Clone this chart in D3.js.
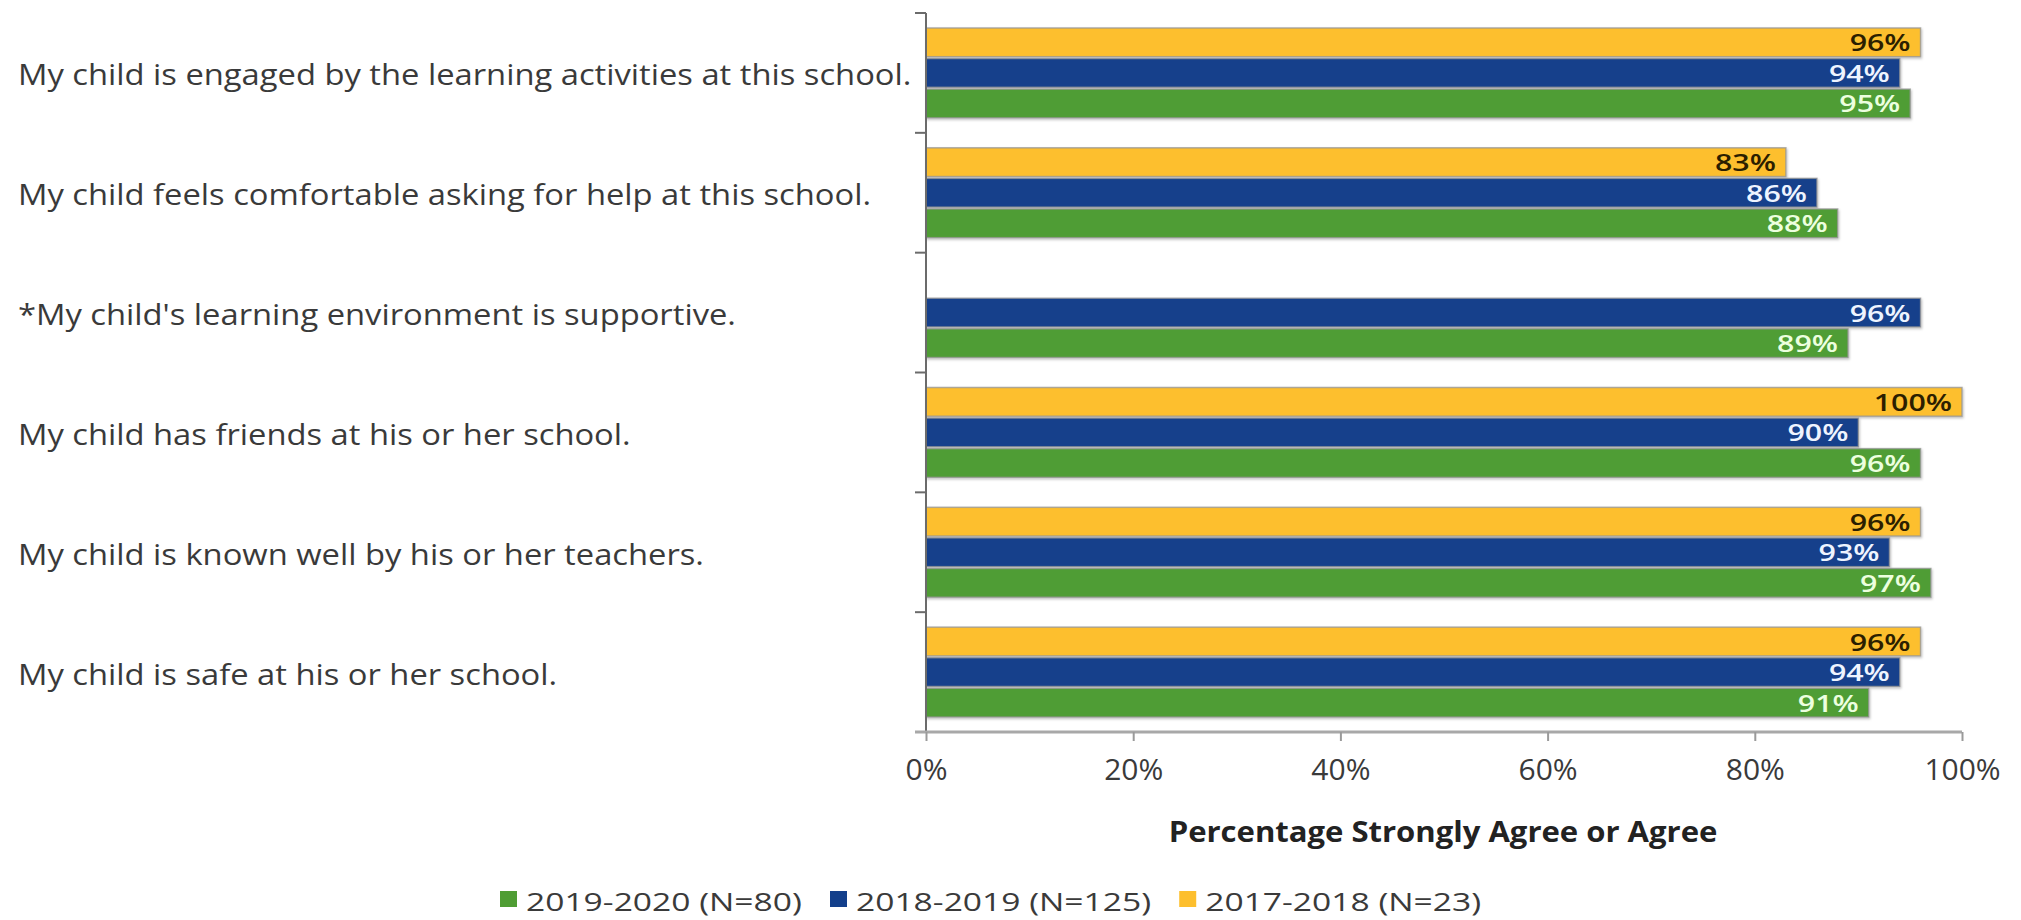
<!DOCTYPE html>
<html>
<head>
<meta charset="utf-8">
<script src="https://cdn.jsdelivr.net/npm/d3@7"></script>
<style>
  html, body { margin: 0; padding: 0; background: #fff; }
  svg { display: block; }
  text { font-family: "Open Sans", "Noto Sans", sans-serif; }
</style>
</head>
<body>
<svg id="chart" width="2021" height="920"></svg>
<script>
// ---------------- data ----------------
const categories = [
  "My child is engaged by the learning activities at this school.",
  "My child feels comfortable asking for help at this school.",
  "*My child's learning environment is supportive.",
  "My child has friends at his or her school.",
  "My child is known well by his or her teachers.",
  "My child is safe at his or her school."
];
const seriesNames = ["2019-2020 (N=80)", "2018-2019 (N=125)", "2017-2018 (N=23)"];
const values2019_2020 = [95, 88, 89, 96, 97, 91];
const values2018_2019 = [94, 86, 96, 90, 93, 94];
const values2017_2018 = [96, 83, null, 100, 96, 96];
const xTicks = [0, 20, 40, 60, 80, 100];
const xTitle = "Percentage Strongly Agree or Agree";

// ---------------- styling ----------------
const colors = {
  "2019-2020 (N=80)": "#4f9d34",
  "2018-2019 (N=125)": "#133f8b",
  "2017-2018 (N=23)": "#fdbf2e"
};
const labelColors = {
  "2019-2020 (N=80)": "#ecffdf",
  "2018-2019 (N=125)": "#eef4ff",
  "2017-2018 (N=23)": "#2b1e00"
};
const barOrder = ["2017-2018 (N=23)", "2018-2019 (N=125)", "2019-2020 (N=80)"]; // top to bottom in each group
const seriesValues = {
  "2019-2020 (N=80)": values2019_2020,
  "2018-2019 (N=125)": values2018_2019,
  "2017-2018 (N=23)": values2017_2018
};

const svg = d3.select("#chart");
const plot = { left: 926, right: 1962, top: 13, bottom: 732 };

const x = d3.scaleLinear().domain([0, 100]).range([plot.left, plot.right]);
const y = d3.scaleBand().domain(categories).range([plot.top, plot.bottom])
  .paddingInner(0.25).paddingOuter(0.125);
const yInner = d3.scaleBand().domain(barOrder).range([0, y.bandwidth()]).paddingInner(0.06);

// drop shadow
const defs = svg.append("defs");
const f = defs.append("filter").attr("id", "shadow").attr("x", "-5%").attr("y", "-20%").attr("width", "110%").attr("height", "150%");
f.append("feDropShadow").attr("dx", 1).attr("dy", 1.5).attr("stdDeviation", 1).attr("flood-color", "#000").attr("flood-opacity", 0.25);

// ---------------- bars ----------------
const rows = [];
categories.forEach((c, i) => {
  barOrder.forEach(s => {
    const v = seriesValues[s][i];
    if (v !== null && v !== undefined) rows.push({ c, s, v });
  });
});

const barG = svg.append("g");
barG.selectAll("rect").data(rows).enter().append("rect")
  .attr("x", x(0))
  .attr("y", d => y(d.c) + yInner(d.s))
  .attr("width", d => x(d.v) - x(0))
  .attr("height", yInner.bandwidth())
  .attr("fill", d => colors[d.s])
  .attr("stroke", "rgba(150,150,150,0.75)")
  .attr("stroke-width", 1.5)
  .attr("filter", "url(#shadow)");

// value labels
const valLabels = barG.selectAll("text.val").data(rows).enter().append("text")
  .attr("class", "val")
  .attr("text-anchor", "end")
  .attr("font-size", 23)
  .attr("font-weight", 600)
  .attr("fill", d => labelColors[d.s])
  .text(d => d.v + "%");
const valScale = 1.32;
valLabels.attr("transform", d => `translate(${x(d.v) - 10},${y(d.c) + yInner(d.s) + yInner.bandwidth() / 2 + 9}) scale(${valScale},1)`);

// ---------------- axes ----------------
// y axis line with boundary ticks
const yAxisG = svg.append("g");
yAxisG.append("line")
  .attr("x1", plot.left).attr("x2", plot.left)
  .attr("y1", plot.top).attr("y2", plot.bottom)
  .attr("stroke", "#6b6b6b").attr("stroke-width", 2);
const boundaries = d3.range(categories.length + 1).map(i => plot.top + i * y.step());
yAxisG.selectAll("line.tk").data(boundaries).enter().append("line")
  .attr("class", "tk")
  .attr("x1", plot.left - 11).attr("x2", plot.left)
  .attr("y1", d => d).attr("y2", d => d)
  .attr("stroke", "#6b6b6b").attr("stroke-width", 2);

// category labels
const catLabels = svg.append("g").selectAll("text").data(categories).enter().append("text")
  .attr("font-size", 30)
  .attr("fill", "#3a3a3a")
  .attr("dy", "0.35em")
  .text(d => d);
const natW = catLabels.nodes()[0].getComputedTextLength();
const catScale = 894 / natW;
catLabels.attr("transform", d => `translate(18,${y(d) + y.bandwidth() / 2 + 2}) scale(${catScale},1)`);

// x axis
const xAxis = d3.axisBottom(x).tickValues(xTicks).tickFormat(d => d + "%")
  .tickSize(9).tickSizeOuter(0).tickPadding(18);
const xAxisG = svg.append("g").attr("transform", `translate(0,${plot.bottom})`).call(xAxis);
xAxisG.select(".domain").attr("stroke", "#a8a8a8").attr("stroke-width", 3)
  .attr("d", `M${plot.left - 11},0H${plot.right}`);
xAxisG.selectAll(".tick line").attr("stroke", "#9a9a9a").attr("stroke-width", 2);
xAxisG.selectAll(".tick text")
  .attr("font-size", 30)
  .attr("font-family", "'Open Sans', sans-serif")
  .attr("fill", "#3a3a3a");

// x title
const title = svg.append("text")
  .attr("font-size", 28)
  .attr("font-weight", 700)
  .attr("fill", "#222")
  .attr("text-anchor", "middle")
  .text(xTitle);
const tW = title.node().getComputedTextLength();
title.attr("transform", `translate(1443,842) scale(${549 / tW},1)`);

// ---------------- legend ----------------
const legendG = svg.append("g");
let lx = 500;
let legScale = null;
seriesNames.forEach(s => {
  legendG.append("rect")
    .attr("x", lx).attr("y", 891).attr("width", 17).attr("height", 16)
    .attr("fill", colors[s]);
  const t = legendG.append("text")
    .attr("font-size", 26)
    .attr("fill", "#3a3a3a")
    .text(s);
  const w = t.node().getComputedTextLength();
  if (legScale === null) legScale = 276 / w;
  t.attr("transform", `translate(${lx + 26},911) scale(${legScale},1)`);
  lx = lx + 26 + w * legScale + 28;
});
</script>
</body>
</html>
